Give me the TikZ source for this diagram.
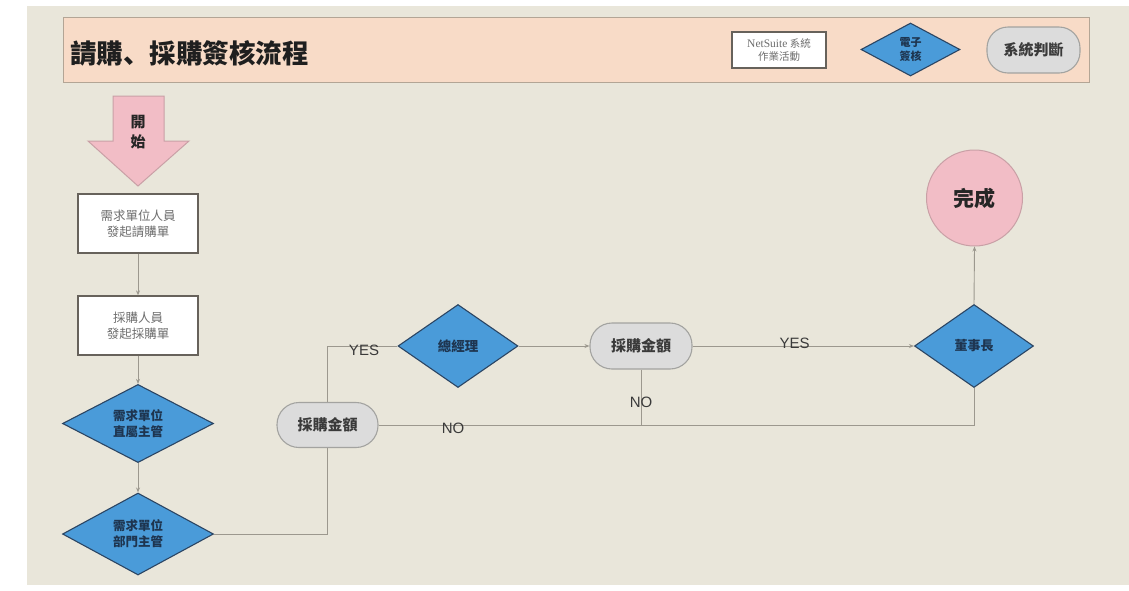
\documentclass[tikz,border=0pt]{standalone}
\usepackage{fontspec}
\setmainfont{Liberation Sans}
\newfontfamily\cjk{Noto Sans CJK TC}
\newfontfamily\cjksc{Noto Sans CJK SC}
\newfontfamily\serifl{Liberation Serif}
\usetikzlibrary{shapes.geometric,arrows.meta}
\definecolor{bgc}{HTML}{E9E6DA}
\definecolor{hdrfill}{HTML}{F8DBC7}
\definecolor{hdrdraw}{HTML}{B3A595}
\definecolor{pinkfill}{HTML}{F2BDC6}
\definecolor{pinkdraw}{HTML}{C9A0A6}
\definecolor{bluefill}{HTML}{4A9BD9}
\definecolor{bluedraw}{HTML}{2B4563}
\definecolor{grayfill}{HTML}{DCDCDC}
\definecolor{graydraw}{HTML}{A3A3A0}
\definecolor{boxdraw}{HTML}{67625B}
\definecolor{linec}{HTML}{9C988E}
\definecolor{boxtext}{HTML}{6E6E6E}
\definecolor{bluetext}{HTML}{1E3550}
\definecolor{darktext}{HTML}{3A3A3A}
\tikzset{
  whitebox/.style={draw=boxdraw, line width=1.3pt, fill=white, minimum width=120pt, minimum height=59pt, inner sep=0pt, align=center, text=boxtext, font=\cjk\fontsize{12.5}{16}\selectfont},
  decision/.style={diamond, draw=bluedraw, line width=1.1pt, fill=bluefill, inner sep=0pt, align=center, text=bluetext, font=\cjk\bfseries\fontsize{12.5}{16}\selectfont},
  judge/.style={draw=graydraw, line width=1.1pt, fill=grayfill, align=center, inner sep=0pt, text=darktext, font=\cjk\bfseries\fontsize{15}{18}\selectfont},
  conn/.style={draw=linec, line width=0.9pt},
  arr/.style={conn, -{Stealth[length=5pt,width=4pt]}},
  lbl/.style={text=darktext, font=\fontsize{15}{18}\selectfont, inner sep=0pt},
}
\begin{document}
\begin{tikzpicture}[x=1pt,y=-1pt]
\useasboundingbox (0,0) rectangle (1129,590);
\fill[white] (0,0) rectangle (1129,590);
\fill[bgc] (27,6) rectangle (1129,585);

% header
\node[draw=hdrdraw, line width=1pt, fill=hdrfill, minimum width=1026pt, minimum height=65pt, inner sep=0pt] (hdr) at (576,49.5) {};
\node[anchor=west, inner sep=0pt, text=black!88, font=\cjk\bfseries\fontsize{26.5}{30}\selectfont] (title) at (70,53) {請購{\cjksc\bfseries 、}採購簽核流程};

% legend
\node[draw=boxdraw, line width=1.1pt, fill=white, minimum width=94pt, minimum height=36pt, inner sep=0pt, align=center, text=boxtext, font=\cjk\fontsize{10.5}{13}\selectfont] (lg1) at (779,50) {{\serifl\fontsize{11.5}{13}\selectfont NetSuite} 系統\\作業活動};
\node[decision, minimum width=99pt, minimum height=53pt, font=\cjk\bfseries\fontsize{11}{14}\selectfont] (lg2) at (910.5,49.5) {電子\\簽核};
\node[judge, rounded corners=21pt, minimum width=93pt, minimum height=46pt] (lg3) at (1033.5,50) {系統判斷};

% start arrow
\draw[draw=pinkdraw, line width=1pt, fill=pinkfill] (113,96) -- (164,96) -- (164,141) -- (189,141) -- (138,186) -- (88,141) -- (113,141) -- cycle;
\node[align=center, inner sep=0pt, text=black!85, font=\cjk\bfseries\fontsize{15}{20}\selectfont] (start) at (138,132) {開\\始};

% left column
\node[whitebox] (b1) at (138,223.5) {需求單位人員\\發起請購單};
\node[whitebox] (b2) at (138,325.5) {採購人員\\發起採購單};
\node[decision, minimum width=151pt, minimum height=77pt] (d1) at (138,423.5) {需求單位\\直屬主管};
\node[decision, minimum width=151pt, minimum height=82pt] (d2) at (138,534) {需求單位\\部門主管};

% middle / right
\node[judge, rounded corners=22pt, minimum width=101pt, minimum height=45pt] (pa1) at (327.5,425) {採購金額};
\node[decision, minimum width=120pt, minimum height=83pt, font=\cjk\bfseries\fontsize{13.5}{16}\selectfont] (gm) at (458,346) {總經理};
\node[judge, rounded corners=22pt, minimum width=102pt, minimum height=46pt] (pa2) at (641,346) {採購金額};
\node[decision, minimum width=119pt, minimum height=83pt, font=\cjk\bfseries\fontsize{13}{16}\selectfont] (ch) at (974,346) {董事長};
\node[circle, draw=pinkdraw, line width=1pt, fill=pinkfill, minimum size=96pt, inner sep=0pt, text=black!85, font=\cjk\bfseries\fontsize{21}{24}\selectfont] (done) at (974.5,198) {完成};

\coordinate (j) at (ch.south |- pa1.east);

% connectors
\draw[arr] (b1.south) -- (b2.north);
\draw[arr] (b2.south) -- (d1.north);
\draw[arr] (d1.south) -- (d2.north);
\draw[conn] (d2.east) -| (pa1.south);
\draw[conn] (pa1.north) |- (gm.west);
\draw[arr] (gm.east) -- (pa2.west);
\draw[arr] (pa2.east) -- (ch.west);
\draw[conn] (pa2.south) |- (j);
\draw[conn] (pa1.east) -- (j) -- (ch.south);
\draw[arr] (ch.north) -- (done.south);

% labels
\node[lbl] (yes1) at (364,350) {YES};
\node[lbl] (yes2) at (794.5,343) {YES};
\node[lbl] (no1) at (453,428.5) {NO};
\node[lbl] (no2) at (641,402) {NO};
\end{tikzpicture}
\end{document}
